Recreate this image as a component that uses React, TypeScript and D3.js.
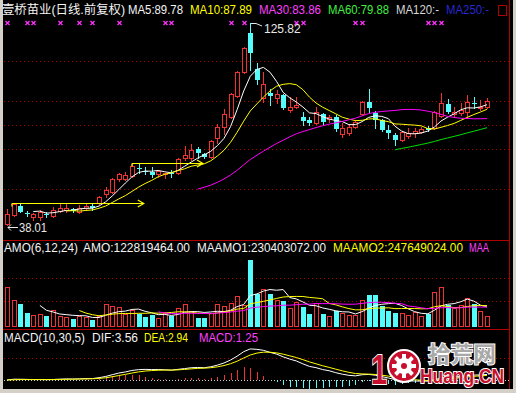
import React, { useEffect, useRef } from 'react';
import * as d3 from 'd3';

// daily K-line (yuan)
const opens = [38.43, 42.34, 46.26, 43.21, 41.47, 41.47, 43.0, 41.91, 44.08, 44.52,
  44.95, 43.65, 45.39, 46.26, 47.56, 51.47, 52.34, 58.0, 58.0, 59.3,
  63.0, 61.69, 61.04, 60.17, 60.17, 60.82, 60.6, 67.13, 67.13, 71.04,
  68.86, 67.56, 75.82, 80.6, 84.95, 94.08, 104.52, 121.47, 105.82, 93.2,
  95.4, 93.2, 94.5, 88.0, 89.3, 84.95, 83.65, 82.34, 86.26, 84.08,
  84.95, 77.56, 78.0, 80.6, 86.26, 91.47, 86.69, 83.65, 79.3, 77.13,
  74.95, 76.69, 78.0, 78.43, 80.17, 80.17, 85.39, 90.6, 86.26, 86.69,
  87.13, 91.04, 89.08, 89.3];
const highs = [44.95, 47.56, 47.56, 44.08, 43.21, 44.52, 43.65, 45.82, 47.56, 47.13,
  45.39, 46.69, 47.56, 47.56, 50.6, 54.52, 58.43, 60.6, 61.04, 64.52,
  64.52, 63.21, 63.21, 61.91, 60.6, 61.91, 67.13, 72.34, 73.21, 71.91,
  69.3, 74.95, 81.91, 88.43, 95.4, 104.95, 115.39, 125.82, 108.43, 104.52,
  97.1, 96.7, 94.95, 93.65, 93.65, 87.13, 84.95, 89.3, 86.69, 85.82,
  85.82, 82.34, 81.47, 83.65, 91.9, 97.1, 87.56, 84.08, 81.47, 78.0,
  78.86, 80.17, 80.17, 80.6, 81.04, 87.56, 95.4, 92.78, 89.3, 91.04,
  94.5, 93.65, 92.34, 93.2];
const lows = [38.01, 41.91, 43.65, 41.91, 40.17, 40.17, 41.47, 41.47, 43.65, 43.65,
  43.65, 43.21, 44.95, 44.52, 47.13, 50.17, 51.91, 57.13, 57.56, 58.86,
  60.6, 60.17, 58.86, 58.86, 58.43, 58.86, 60.17, 66.26, 66.26, 67.13,
  67.13, 67.13, 73.65, 77.56, 84.52, 93.65, 104.08, 105.39, 99.3, 91.47,
  90.17, 91.04, 88.43, 87.13, 88.86, 81.47, 81.47, 81.91, 81.47, 82.78,
  78.86, 76.26, 77.13, 80.17, 85.82, 87.13, 80.17, 78.86, 75.82, 72.78,
  74.52, 75.82, 76.26, 78.0, 78.86, 79.73, 84.95, 86.69, 84.95, 85.82,
  84.52, 88.86, 88.0, 88.86];
const closes = [42.78, 47.13, 43.65, 43.0, 42.78, 43.65, 42.78, 44.52, 45.39, 45.39,
  44.08, 45.39, 46.26, 45.39, 50.17, 53.21, 58.0, 60.17, 59.73, 63.65,
  62.56, 61.26, 59.73, 61.47, 60.6, 60.39, 66.69, 68.43, 70.6, 69.3,
  67.56, 74.52, 80.6, 86.26, 94.95, 104.52, 114.95, 112.78, 101.0, 99.3,
  94.08, 94.95, 88.86, 89.3, 90.17, 83.21, 82.34, 87.13, 82.78, 84.95,
  79.73, 80.17, 80.6, 82.78, 91.47, 88.86, 83.65, 79.3, 78.0, 74.95,
  78.43, 78.0, 78.86, 79.73, 79.3, 87.13, 91.04, 87.13, 87.13, 88.0,
  91.47, 90.6, 89.52, 91.9];
// turnover (AMO), millions of yuan
const amounts = [448, 302, 258, 157, 134, 146, 123, 190, 123, 112,
  90, 123, 112, 78, 123, 258, 235, 224, 146, 190,
  146, 112, 134, 101, 157, 123, 213, 258, 179, 101,
  101, 157, 258, 235, 269, 347, 246, 750, 370, 426,
  370, 302, 291, 213, 280, 224, 146, 269, 146, 123,
  179, 157, 134, 134, 302, 358, 358, 235, 179, 157,
  157, 134, 168, 123, 146, 392, 448, 246, 213, 246,
  325, 258, 179, 122.82];

const gridPrices = [109.3, 91.9, 81.5, 71.0, 53.7];
const gridAmounts = [549, 291];
const gridMacd = [14.2];
// info-mine markers above the candles (candle index)
const markerIdx = [0, 3, 4, 8, 11, 13, 17, 24, 25, 34, 36, 44, 45, 53, 54, 64, 65, 66];
// hand drawn yellow arrows: from/to candle index, price level
const arrowFrom = [0.75, 19];
const arrowTo = [20.8, 29.8];
const arrowPrice = [47.56, 64.95];

const titleItems = [
  ['壹桥苗业(日线.前复权)', '#f4f4f4', 2, 123],
  ['MA5:89.78', '#f4f4f4', 128, 55],
  ['MA10:87.89', '#ffff00', 190, 62],
  ['MA30:83.86', '#ff40ff', 259, 62],
  ['MA60:79.88', '#40f040', 328, 61],
  ['MA120:-', '#d8d8d8', 396, 43],
  ['MA250:-', '#2828d0', 446, 43],
];
const amoItems = [
  ['AMO(6,12,24)', '#f4f4f4', 4, 74],
  ['AMO:122819464.00', '#f4f4f4', 83, 107],
  ['MAAMO1:230403072.00', '#f4f4f4', 197, 129],
  ['MAAMO2:247649024.00', '#ffff00', 333, 130],
  ['MAA', '#ff40ff', 469, 20],
];
const macdItems = [
  ['MACD(10,30,5)', '#f4f4f4', 4, 81],
  ['DIF:3.56', '#f4f4f4', 92, 46],
  ['DEA:2.94', '#ffff00', 144, 44],
  ['MACD:1.25', '#ff40ff', 199, 59],
];

const RED = '#f03232';
const CYAN = '#54fcfc';
const GRID = '#a80000';
const FONT = "'Liberation Sans', 'Noto Sans CJK SC', sans-serif";

// indicator definitions, applied to the values read above
const ma = (arr: number[], len: number) =>
  arr.map((_, i) => (i < len - 1 ? null : d3.mean(arr.slice(i - len + 1, i + 1)) as number));
const ema = (arr: number[], len: number) => {
  const out: number[] = [];
  arr.forEach((v, i) => out.push(i === 0 ? v : (2 * v + (len - 1) * out[i - 1]) / (len + 1)));
  return out;
};

const App = () => {
  const svgRef = useRef<SVGSVGElement>(null);

  useEffect(() => {
    const svg = d3.select(svgRef.current);
    svg.selectAll('*').remove();
    const n = closes.length;

    const x = d3.scaleLinear().domain([0, n - 1]).range([7, 487]);
    const yP = d3.scaleLinear().domain([38.01, 125.82]).range([225, 23]);
    const yV = d3.scaleLinear().domain([0, 850]).range([327, 250.9]);
    const yM = d3.scaleLinear().domain([-6, 30]).range([389.3, 333.5]);
    const cx = (i: number) => Math.round(x(i));

    // frame
    svg.append('rect').attr('width', 516).attr('height', 393).attr('fill', '#000');
    svg.append('rect').attr('x', 0).attr('y', 0).attr('width', 3).attr('height', 393).attr('fill', '#d4d0c8');
    svg.append('rect').attr('x', 0).attr('y', 389).attr('width', 516).attr('height', 4).attr('fill', '#d4d0c8');
    svg.append('rect').attr('x', 513).attr('y', 0).attr('width', 3).attr('height', 393).attr('fill', '#d4d0c8');
    const frame = svg.append('g').attr('stroke', '#b00000').attr('shape-rendering', 'crispEdges');
    frame.append('line').attr('x1', 3).attr('x2', 510).attr('y1', 240.5).attr('y2', 240.5);
    frame.append('line').attr('x1', 3).attr('x2', 510).attr('y1', 329.5).attr('y2', 329.5);
    frame.append('line').attr('x1', 509.5).attr('x2', 509.5).attr('y1', 0).attr('y2', 389);
    frame.append('rect').attr('x', 498.5).attr('y', 5.5).attr('width', 8).attr('height', 10).attr('fill', 'none');

    // grids
    const grid = svg.append('g').attr('stroke', GRID).attr('stroke-dasharray', '1,3')
      .attr('shape-rendering', 'crispEdges');
    gridPrices.forEach(p => grid.append('line').attr('x1', 4).attr('x2', 509)
      .attr('y1', Math.round(yP(p)) + 0.5).attr('y2', Math.round(yP(p)) + 0.5));
    gridAmounts.forEach(v => grid.append('line').attr('x1', 4).attr('x2', 509)
      .attr('y1', Math.round(yV(v)) + 0.5).attr('y2', Math.round(yV(v)) + 0.5));
    gridMacd.forEach(v => grid.append('line').attr('x1', 4).attr('x2', 509)
      .attr('y1', Math.round(yM(v)) + 0.5).attr('y2', Math.round(yM(v)) + 0.5));
    svg.append('line').attr('x1', 4).attr('x2', 509)
      .attr('y1', Math.round(yM(0)) + 0.5).attr('y2', Math.round(yM(0)) + 0.5)
      .attr('stroke', '#d0d0d0').attr('stroke-dasharray', '1,2').attr('shape-rendering', 'crispEdges');

    // candles
    const kg = svg.append('g').attr('shape-rendering', 'crispEdges');
    d3.range(n).forEach(i => {
      const up = closes[i] >= opens[i];
      const color = up ? RED : CYAN;
      const c = cx(i);
      kg.append('line').attr('x1', c + 0.5).attr('x2', c + 0.5)
        .attr('y1', Math.round(yP(highs[i]))).attr('y2', Math.round(yP(lows[i])) + 1)
        .attr('stroke', color);
      const top = Math.round(yP(Math.max(opens[i], closes[i])));
      const bot = Math.round(yP(Math.min(opens[i], closes[i])));
      if (up) {
        kg.append('rect').attr('x', c - 2 + 0.5).attr('y', top + 0.5)
          .attr('width', 4).attr('height', Math.max(bot - top, 0))
          .attr('fill', '#000').attr('stroke', RED);
      } else {
        kg.append('rect').attr('x', c - 2).attr('y', top)
          .attr('width', 5).attr('height', Math.max(bot - top, 1)).attr('fill', CYAN);
      }
    });

    // moving averages
    const line = d3.line<number | null>()
      .defined(d => d != null)
      .x((_, i) => x(i))
      .y(d => yP(d as number));
    [[5, '#ffffff'], [10, '#ffff00'], [30, '#ff00ff'], [60, '#00e000']].forEach(([len, col]) => {
      svg.append('path').attr('d', line(ma(closes, len as number)))
        .attr('fill', 'none').attr('stroke', col as string).attr('stroke-width', 1);
    });

    // yellow arrows
    const ar = svg.append('g').attr('stroke', '#ffff00').attr('stroke-width', 1.2).attr('fill', 'none');
    arrowPrice.forEach((p, k) => {
      const yy = Math.round(yP(p)) + 0.5;
      const x0 = x(arrowFrom[k]);
      const x1 = x(arrowTo[k]);
      ar.append('line').attr('x1', x0).attr('x2', x1).attr('y1', yy).attr('y2', yy);
      ar.append('line').attr('x1', x0).attr('x2', x0).attr('y1', yy).attr('y2', yy + 3);
      ar.append('path').attr('d', `M${x1 - 6},${yy - 3.5}L${x1},${yy}L${x1 - 6},${yy + 3.5}`);
    });

    // markers
    const mk = svg.append('g').attr('stroke', '#ff30ff').attr('stroke-width', 1.3);
    markerIdx.forEach(i => {
      const c = cx(i) + 0.5;
      mk.append('path').attr('d', `M${c - 2},${21}L${c + 2},${25}M${c + 2},${21}L${c - 2},${25}`);
    });

    // high / low labels
    const hi = d3.maxIndex(highs);
    const lo = d3.minIndex(lows);
    svg.append('path')
      .attr('d', `M${cx(hi) + 1},${yP(highs[hi]) + 0.5}L${cx(hi) + 6},${yP(highs[hi]) + 0.5}L${cx(hi) + 12},${yP(highs[hi]) + 3}`)
      .attr('stroke', '#e8e8e8').attr('fill', 'none');
    svg.append('text').attr('x', cx(hi) + 14).attr('y', 33).text(highs[hi].toFixed(2))
      .attr('fill', '#e8e8e8').attr('font-size', 12).attr('font-family', FONT);
    const ly = Math.round(yP(lows[lo])) + 2.5;
    svg.append('path')
      .attr('d', `M${cx(lo) + 11},${ly}L${cx(lo) + 1},${ly}M${cx(lo) + 4},${ly - 3}L${cx(lo) + 1},${ly}L${cx(lo) + 4},${ly + 3}`)
      .attr('stroke', '#e8e8e8').attr('fill', 'none');
    svg.append('text').attr('x', cx(lo) + 12).attr('y', ly + 4.5).text(lows[lo].toFixed(2))
      .attr('fill', '#e8e8e8').attr('font-size', 12).attr('font-family', FONT)
      .attr('textLength', 28).attr('lengthAdjust', 'spacingAndGlyphs');

    // AMO panel
    const vg = svg.append('g').attr('shape-rendering', 'crispEdges');
    amounts.forEach((v, i) => {
      const up = closes[i] >= opens[i];
      const c = cx(i);
      const top = Math.round(yV(v));
      const base = Math.round(yV(0));
      if (up) {
        vg.append('rect').attr('x', c - 2 + 0.5).attr('y', top + 0.5).attr('width', 4)
          .attr('height', base - top - 1).attr('fill', 'none').attr('stroke', RED);
      } else {
        vg.append('rect').attr('x', c - 2).attr('y', top).attr('width', 5)
          .attr('height', base - top).attr('fill', CYAN);
      }
    });
    const vline = d3.line<number | null>()
      .defined(d => d != null)
      .x((_, i) => x(i))
      .y(d => yV(d as number));
    [[6, '#ffffff'], [12, '#ffff00'], [24, '#ff00ff']].forEach(([len, col]) => {
      svg.append('path').attr('d', vline(ma(amounts, len as number)))
        .attr('fill', 'none').attr('stroke', col as string).attr('stroke-width', 1);
    });

    // MACD panel
    const dif = ema(closes, 10).map((v, i) => v - ema(closes, 30)[i]);
    const dea = ema(dif, 5);
    const hist = dif.map((v, i) => 2 * (v - dea[i]));
    const mg = svg.append('g').attr('shape-rendering', 'crispEdges');
    hist.forEach((v, i) => {
      mg.append('line').attr('x1', cx(i) + 0.5).attr('x2', cx(i) + 0.5)
        .attr('y1', Math.round(yM(0))).attr('y2', Math.round(yM(v)))
        .attr('stroke', v >= 0 ? RED : CYAN);
    });
    const mline = d3.line<number>().x((_, i) => x(i)).y(d => yM(d));
    svg.append('path').attr('d', mline(dif)).attr('fill', 'none').attr('stroke', '#ffffff');
    svg.append('path').attr('d', mline(dea)).attr('fill', 'none').attr('stroke', '#ffff00');

    // titles
    const addTexts = (items: (string | number)[][], baseY: number) => {
      items.forEach(([t, col, tx, w]) => {
        svg.append('text').attr('x', tx as number).attr('y', baseY).text(t as string)
          .attr('fill', col as string).attr('font-size', 12).attr('font-family', FONT)
          .attr('textLength', w as number).attr('lengthAdjust', 'spacingAndGlyphs');
      });
    };
    addTexts(titleItems, 14);
    addTexts(amoItems, 252);
    addTexts(macdItems, 342);

    // watermark
    const wm = svg.append('g');
    wm.append('circle').attr('cx', 404).attr('cy', 366).attr('r', 16)
      .attr('fill', '#c8102e').attr('stroke', '#ffffff').attr('stroke-width', 2);
    d3.range(8).forEach(k => {
      wm.append('rect').attr('x', 402).attr('y', 354).attr('width', 4).attr('height', 5)
        .attr('fill', '#ffffff').attr('transform', `rotate(${k * 45},404,366)`);
    });
    wm.append('circle').attr('cx', 404).attr('cy', 366).attr('r', 8).attr('fill', '#ffffff');
    wm.append('circle').attr('cx', 404).attr('cy', 366).attr('r', 3).attr('fill', '#c8102e');
    wm.append('text').attr('x', 371).attr('y', 384).text('1')
      .attr('font-size', 42).attr('font-weight', 'bold')
      .attr('font-family', FONT).attr('fill', '#c8102e')
      .attr('stroke', '#ffffff').attr('stroke-width', 2).attr('paint-order', 'stroke')
      .attr('textLength', 16).attr('lengthAdjust', 'spacingAndGlyphs');
    wm.append('text').attr('x', 428).attr('y', 362).text('拾荒网')
      .attr('font-size', 22).attr('font-weight', 'bold')
      .attr('font-family', "'Noto Sans CJK SC', sans-serif").attr('fill', '#a8a8a8')
      .attr('stroke', '#ffffff').attr('stroke-width', 2).attr('paint-order', 'stroke')
      .attr('textLength', 68).attr('lengthAdjust', 'spacingAndGlyphs');
    wm.append('text').attr('x', 420).attr('y', 383).text('Huang.CN')
      .attr('font-size', 20).attr('font-weight', 'bold')
      .attr('font-family', FONT).attr('fill', '#c8102e')
      .attr('stroke', '#ffffff').attr('stroke-width', 2).attr('paint-order', 'stroke')
      .attr('textLength', 84).attr('lengthAdjust', 'spacingAndGlyphs');
  }, []);

  return (
    <div style={{ position: 'fixed', left: 0, top: 0, width: 516, height: 393 }}>
      <svg ref={svgRef} width={516} height={393} style={{ display: 'block' }}></svg>
    </div>
  );
};

export default App;
